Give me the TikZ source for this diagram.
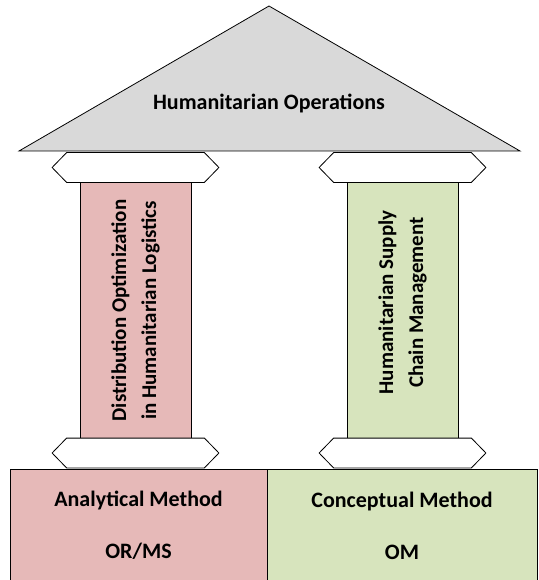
\documentclass[tikz,border=0pt]{standalone}
\usepackage{fontspec}
\setmainfont{Carlito}
\usetikzlibrary{positioning, calc}

\definecolor{roofgray}{HTML}{D9D9D9}
\definecolor{orpink}{HTML}{E6B9B8}
\definecolor{omgreen}{HTML}{D7E4BD}

\begin{document}
\begin{tikzpicture}[x=1pt, y=-1pt, line width=0.8pt, node distance=267pt, on grid,
        font=\bfseries\fontsize{22}{29}\selectfont,
        capital/.style={minimum width=137pt, minimum height=29pt, inner sep=0pt},
        pillar/.style={draw, rotate=90, minimum width=257pt, minimum height=111pt, inner sep=0pt, align=center,
                font=\bfseries\fontsize{21}{30}\selectfont},
        basebox/.style={draw, minimum height=113pt, inner sep=0pt, align=center}]
                \useasboundingbox (0,0) rectangle (538,580);
                % base
                \node[basebox, fill=orpink, minimum width=257pt] (baseL) at (138.5,525.5) {Analytical Method\\[23pt]OR/MS};
                \node[basebox, fill=omgreen, minimum width=270pt] (baseR) at (402,525.5) {Conceptual Method\\[23pt]OM};
                % pillars
                \node[pillar, fill=orpink] (pillarL) at (135.5,310.5) {Distribution Optimization\\in Humanitarian Logistics};
                \node[pillar, fill=omgreen] (pillarR) [right=of pillarL] {\hspace*{16pt}Humanitarian Supply\\\hspace*{16pt}Chain Management};
                % capitals
                \node[capital] (capTL) at (135.5,167.5) {};
                \node[capital] (capTR) [right=of capTL] {};
                \node[capital] (capBL) at (135.5,453) {};
                \node[capital] (capBR) [right=of capBL] {};
                \foreach \c in {capTL, capTR, capBL, capBR}
                \draw[fill=white] (\c.north west) -- (\c.north east) -- ([xshift=14.5pt]\c.east)
                        -- (\c.south east) -- (\c.south west) -- ([xshift=-14.5pt]\c.west) -- cycle;
                % roof
                \coordinate (roofL) at (19,151);
                \coordinate (roofT) at (269,6);
                \coordinate (roofR) at (520,151);
                \draw[fill=roofgray] (roofL) -- (roofT) -- (roofR) -- cycle;
                \node (roof) at (269,103) {Humanitarian Operations};
        \end{tikzpicture}
\end{document}
